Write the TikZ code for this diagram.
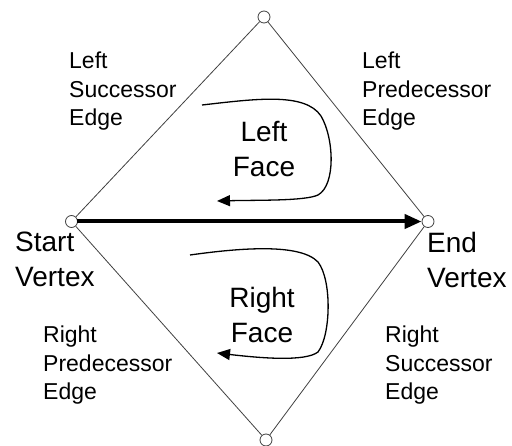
\documentclass[tikz,border=0pt]{standalone}
\usepackage{fontspec}
\setmainfont{Liberation Sans}
\usetikzlibrary{arrows.meta}
\begin{document}
\begin{tikzpicture}[x=1pt,y=-1pt,
  vtx/.style={circle,draw=black!75,line width=0.8pt,fill=white,minimum size=12pt,inner sep=0pt},
  edgeline/.style={draw=black!75,line width=0.8pt},
  bigarrow/.style={line width=4pt,-{Triangle[length=17pt,width=14pt]},shorten <=-1pt},
  facearrow/.style={line width=1.3pt,-{Triangle[length=13pt,width=11pt]}},
  small/.style={anchor=north west,inner sep=0pt,align=left,font=\fontsize{23}{28.5}\selectfont},
  big/.style={inner sep=0pt,font=\fontsize{28}{35}\selectfont}]
\useasboundingbox (0,0) rectangle (512,446);
% vertices
\node[vtx] (T) at (264,17) {};
\node[vtx] (L) at (71.5,221.5) {};
\node[vtx] (R) at (428,221.5) {};
\node[vtx] (B) at (266,440) {};
% diamond edges
\draw[edgeline] (T) -- (L);
\draw[edgeline] (T) -- (R);
\draw[edgeline] (B) -- (L);
\draw[edgeline] (B) -- (R);
% main edge
\draw[bigarrow] (L) -- (R);
% edge labels
\node[small] (lse) at (69,52) {Left\\Successor\\Edge};
\node[small] (lpe) at (362,52) {Left\\Predecessor\\Edge};
\node[small] (rpe) at (43,326) {Right\\Predecessor\\Edge};
\node[small] (rse) at (385,326) {Right\\Successor\\Edge};
% vertex labels
\node[big,anchor=north west,align=left] (sv) at (15,232) {Start\\Vertex};
\node[big,anchor=north west,align=left] (ev) at (427,232) {End\\Vertex};
% face labels
\node[big,anchor=north,align=center] (lf) at (264,121.5) {Left\\Face};
\node[big,anchor=north,align=center] (rf) at (262,287.5) {Right\\Face};
% face arrows
\coordinate (lfs) at (202,105);
\coordinate (lfe) at (217,201);
\coordinate (rfs) at (190,255);
\coordinate (rfe) at (217,353);
\draw[facearrow] (lfs) .. controls (255,99) and (305,92) .. (321,116)
  .. controls (334,138) and (336,185) .. (318,195)
  .. controls (305,201) and (260,200) .. (lfe);
\draw[facearrow] (rfs) .. controls (240,248) and (300,243) .. (318,262)
  .. controls (332,280) and (331,335) .. (318,352)
  .. controls (305,362) and (260,358) .. (rfe);
\end{tikzpicture}
\end{document}
